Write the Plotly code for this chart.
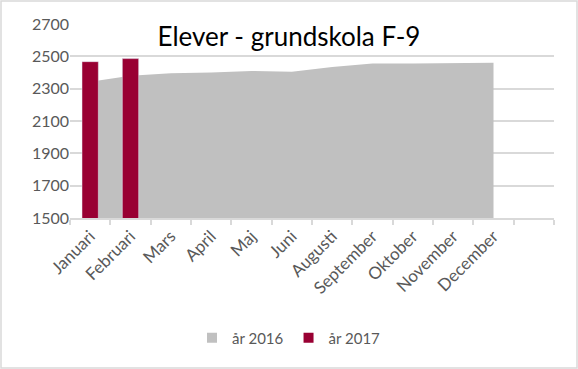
import plotly.graph_objects as go

categories = ["Januari", "Februari", "Mars", "April", "Maj", "Juni", "Augusti",
              "September", "Oktober", "November", "December", " "]
values_2016 = [2343, 2380, 2395, 2400, 2410, 2405, 2434, 2455, 2455, 2457, 2460]
months_2017 = ["Januari", "Februari"]
values_2017 = [2467, 2486]
y_ticks = [1500, 1700, 1900, 2100, 2300, 2500, 2700]

GRAY = "#c0c0c0"
RED = "#990033"
TXT = "#595959"
GRID = "#d9d9d9"
FONT = "Lato"

fig = go.Figure()
fig.add_trace(go.Scatter(x=categories[:len(values_2016)], y=values_2016, mode="lines",
                         fill="tozeroy", fillcolor=GRAY, line=dict(width=0, color=GRAY),
                         showlegend=False, hoverinfo="skip"))
fig.add_trace(go.Bar(x=months_2017, y=values_2017, marker_color=RED, width=0.405,
                     showlegend=False, yaxis="y2"))
# legend entries
fig.add_trace(go.Scatter(x=[None], y=[None], mode="markers", name="år 2016",
                         marker=dict(symbol="square", size=10, color=GRAY)))
fig.add_trace(go.Scatter(x=[None], y=[None], mode="markers", name="år 2017",
                         marker=dict(symbol="square", size=10, color=RED)))

yax = dict(range=[1500, 2700], tickvals=y_ticks, showgrid=True, gridcolor=GRID,
           gridwidth=1.5, zeroline=False, showline=False, automargin=False,
           tickfont=dict(family=FONT, size=16, color=TXT), ticks="", ticklen=0)

fig.update_layout(
    width=578, height=369,
    margin=dict(l=70, r=24, t=24, b=151, autoexpand=False),
    paper_bgcolor="white", plot_bgcolor="white",
    title=dict(text="Elever - grundskola F-9", x=0.5, xanchor="center",
               y=1 - 37 / 369, yanchor="middle", yref="container",
               font=dict(family=FONT, size=26, color="black")),
    xaxis=dict(type="category", categoryorder="array", categoryarray=categories,
               range=[-0.5, 11.5], tickson="boundaries", ticks="outside", ticklen=5,
               tickcolor=GRID, tickwidth=1.5, showline=True, linecolor=GRID, linewidth=1.5,
               showgrid=False, tickangle=-45, automargin=False,
               tickfont=dict(family=FONT, size=17, color=TXT)),
    yaxis=yax,
    yaxis2=dict(range=[1500, 2700], overlaying="y", showgrid=False, showticklabels=False,
                zeroline=False, showline=False, automargin=False),
    barmode="overlay",
    showlegend=True,
    legend=dict(orientation="h", x=0.5, xanchor="center", xref="container",
                y=1 - 338 / 369, yanchor="middle", yref="container",
                font=dict(family=FONT, size=15, color=TXT), itemwidth=30,
                tracegroupgap=0),
    shapes=[dict(type="rect", xref="paper", yref="paper",
                 x0=(1 - 70) / 484, x1=(577 - 70) / 484,
                 y0=(218 - 368) / 194, y1=(218 - 1) / 194,
                 line=dict(color=GRID, width=1.5), fillcolor="rgba(0,0,0,0)", layer="below")],
)

fig.write_html("out.html", config={"displayModeBar": False},
               post_script="document.body.style.margin='0px';")
